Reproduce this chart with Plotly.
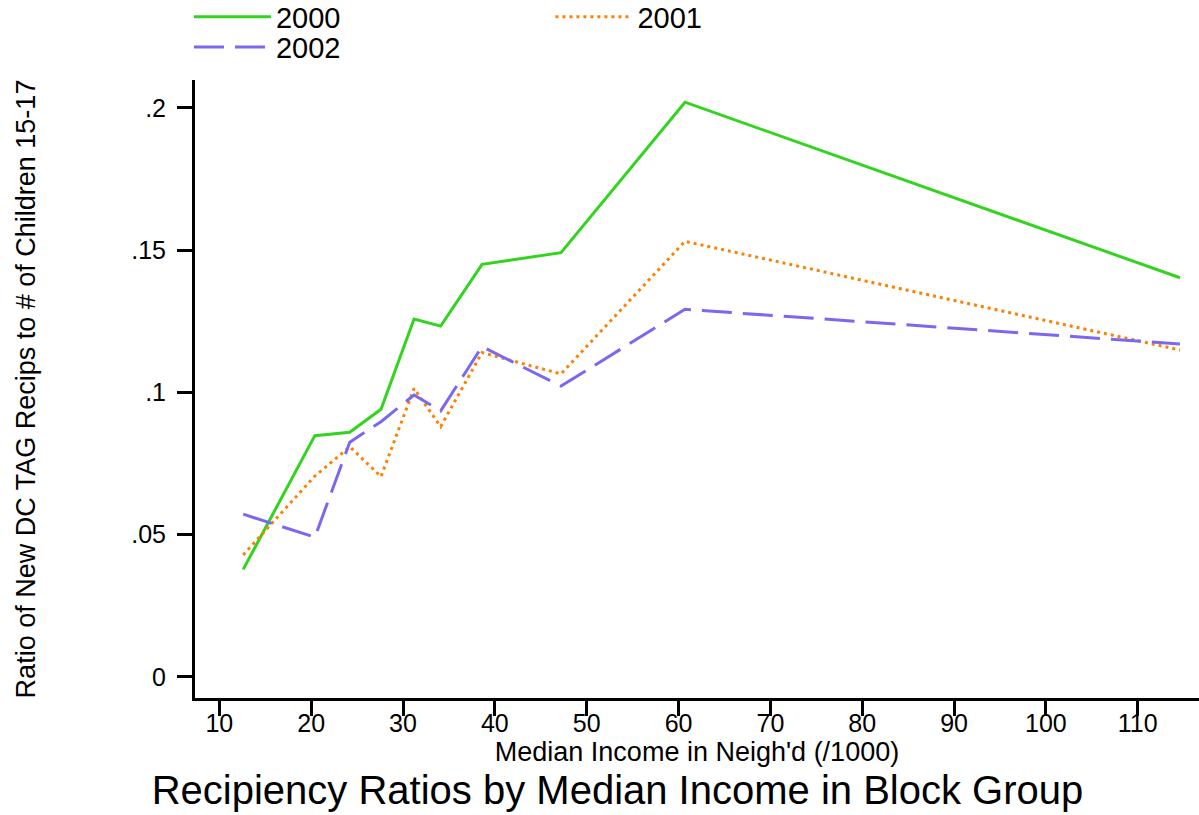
import plotly.graph_objects as go

# Median income in block group (/1000) and recipiency ratios per year
income = [12.6, 20.4, 24.2, 27.6, 31.2, 34.1, 38.6, 47.2, 60.7, 114.6]
ratio_2000 = [0.0378, 0.0848, 0.0860, 0.0941, 0.1258, 0.1233, 0.1450, 0.1491, 0.2020, 0.1403]
ratio_2001 = [0.0429, 0.0706, 0.0809, 0.0704, 0.1014, 0.0880, 0.1140, 0.1065, 0.1531, 0.1149]
ratio_2002 = [0.0572, 0.0491, 0.0825, 0.0897, 0.0991, 0.0935, 0.1161, 0.1022, 0.1292, 0.1170]

x_ticks = [10, 20, 30, 40, 50, 60, 70, 80, 90, 100, 110]
y_ticks = [0, 0.05, 0.1, 0.15, 0.2]
y_labels = ["0", ".05", ".1", ".15", ".2"]

FONT = "Liberation Sans, Arial, sans-serif"

fig = go.Figure()

# each series gets its own legend box so the Stata-style 2+1 layout can be placed
fig.add_trace(go.Scatter(x=income, y=ratio_2000, mode="lines", name="2000",
                         line=dict(color="#33d41f", width=3),
                         legend="legend", showlegend=True))
fig.add_trace(go.Scatter(x=income, y=ratio_2001, mode="lines", name="2001",
                         line=dict(color="#ff8000", width=3, dash="3px,4px"),
                         legend="legend2", showlegend=True))
fig.add_trace(go.Scatter(x=income, y=ratio_2002, mode="lines", name="2002",
                         line=dict(color="#7b68ee", width=3, dash="30px,11px"),
                         legend="legend3", showlegend=True))

axis_common = dict(showgrid=False, zeroline=False, showline=True, linecolor="black",
                   linewidth=3, ticks="outside", ticklen=15, tickwidth=2.5,
                   tickcolor="black", automargin=False)

legend_common = dict(font=dict(size=29), itemwidth=77, xanchor="left",
                     yanchor="middle", bgcolor="rgba(0,0,0,0)")

fig.update_layout(
    width=1199, height=815,
    showlegend=True,
    paper_bgcolor="white", plot_bgcolor="white",
    margin=dict(l=195, r=0, t=80, b=117, autoexpand=False),
    font=dict(family=FONT, color="black"),
    title=dict(text="Recipiency Ratios by Median Income in Block Group",
               x=0.515, xanchor="center", y=0.031, yanchor="middle",
               xref="container", yref="container",
               font=dict(size=40, family=FONT, color="black")),
    xaxis=dict(range=[7.35, 116.67], tickvals=x_ticks,
               ticktext=[str(v) for v in x_ticks],
               tickfont=dict(size=25), ticklabelstandoff=-14,
               title=dict(text="Median Income in Neigh'd (/1000)",
                          font=dict(size=27), standoff=0),
               **axis_common),
    yaxis=dict(range=[-0.0074, 0.2098], tickvals=y_ticks, ticktext=y_labels,
               tickfont=dict(size=25), ticklabelstandoff=6,
               title=dict(text="Ratio of New DC TAG Recips to # of Children 15-17",
                          font=dict(size=27), standoff=88),
               **axis_common),
    legend=dict(x=-0.006, y=1.102, **legend_common),
    legend2=dict(x=0.354, y=1.102, **legend_common),
    legend3=dict(x=-0.006, y=1.053, **legend_common),
)

# drop the default 8px body margin so the figure sits at the window's corner
fig.write_html("out.html", config={"displayModeBar": False},
               post_script="document.body.style.margin='0';")
